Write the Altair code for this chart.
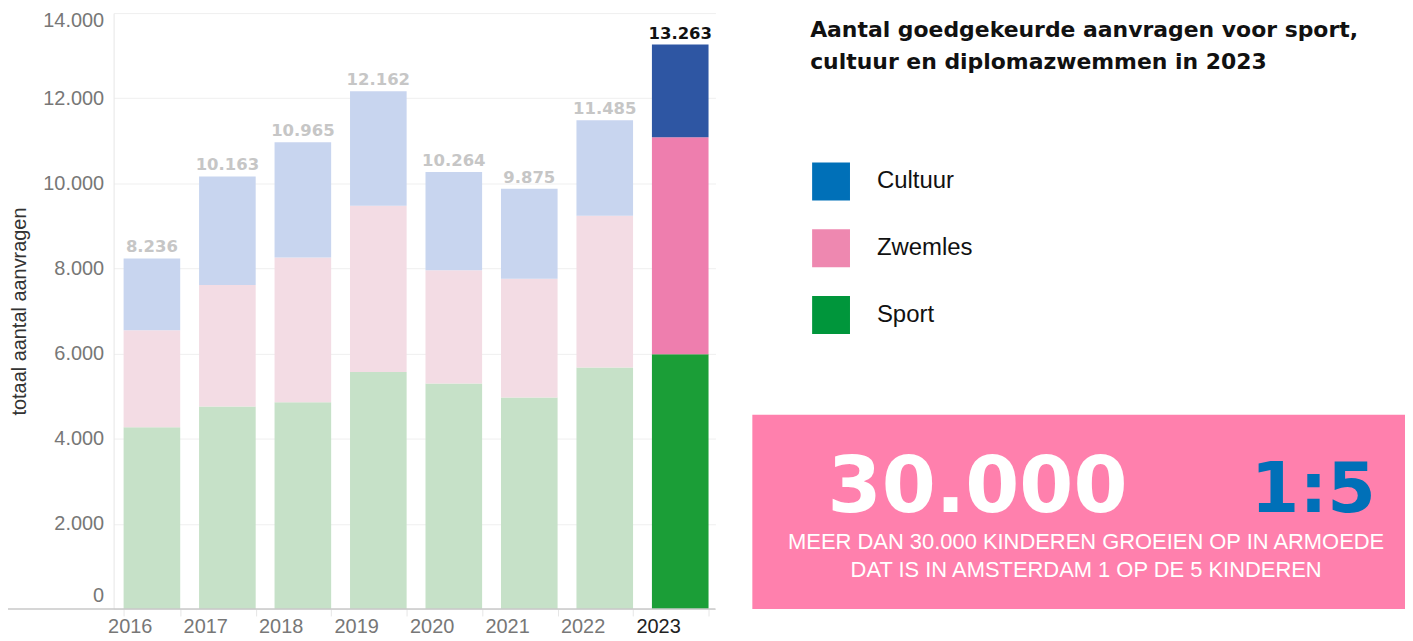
import altair as alt
import pandas as pd

# ---- data ----
jaren = ["2016", "2017", "2018", "2019", "2020", "2021", "2022", "2023"]
totaal = [8236, 10163, 10965, 12162, 10264, 9875, 11485, 13263]
sport = [4270, 4760, 4860, 5565, 5300, 4970, 5675, 5985]
zwemles = [2280, 2850, 3400, 3910, 2660, 2790, 3565, 5100]
cultuur = [1686, 2553, 2705, 2687, 2304, 2115, 2245, 2178]
y_ticks = [0, 2000, 4000, 6000, 8000, 10000, 12000, 14000]

categorieen = ["Cultuur", "Zwemles", "Sport"]
legenda_kleuren = ["#0070b8", "#ee88b0", "#00963b"]
kleur_sleutels = ["Cultuur", "Zwemles", "Sport", "Cultuur licht", "Zwemles licht", "Sport licht"]
kleuren = ["#2e56a3", "#ee7eae", "#1b9e37", "#c8d5ef", "#f3dce4", "#c6e1c8"]

titel = ["Aantal goedgekeurde aanvragen voor sport,", "cultuur en diplomazwemmen in 2023"]
kader_getal = "30.000"
kader_verhouding = "1:5"
kader_tekst = ["MEER DAN 30.000 KINDEREN GROEIEN OP IN ARMOEDE",
               "DAT IS IN AMSTERDAM 1 OP DE 5 KINDEREN"]

rows = []
for i, j in enumerate(jaren):
    for cat, vals, order in [("Sport", sport, 0), ("Zwemles", zwemles, 1), ("Cultuur", cultuur, 2)]:
        rows.append({"jaar": j, "categorie": cat, "aantal": vals[i], "volgorde": order,
                     "kleur": cat if j == "2023" else cat + " licht"})
df = pd.DataFrame(rows)
tot_df = pd.DataFrame({"jaar": jaren, "totaal": totaal})

W, H = 604, 598
FONT = "Liberation Sans"

x_enc = alt.X(
    "jaar:N",
    sort=jaren,
    scale=alt.Scale(paddingInner=0.25, paddingOuter=0.112, align=0.59),
    axis=alt.Axis(
        title=None, labelAngle=0, labelFontSize=20, labelFont=FONT,
        labelColor={"condition": {"test": "datum.value === '2023'", "value": "#222222"}, "value": "#777777"},
        labelBaseline="alphabetic", labelPadding=17,
        domain=False, grid=False, ticks=True, tickBand="extent",
        tickColor="#e6e6e6", tickSize=7,
    ),
)

y_scale = alt.Scale(domain=[0, 14000], nice=False)

bars = alt.Chart(df).mark_bar().encode(
    x=x_enc,
    y=alt.Y(
        "aantal:Q", stack="zero", scale=y_scale,
        axis=alt.Axis(
            values=y_ticks,
            labelExpr="replace(format(datum.value, ','), ',', '.')",
            title="totaal aantal aanvragen", titleFont=FONT, titleFontSize=20,
            titleFontWeight="normal", titleColor="#333333", titlePadding=13,
            labelFont=FONT, labelFontSize=20, labelColor="#777777", labelPadding=10,
            labelFlush=False, labelBaseline="middle",
            labelOffset={"condition": [{"test": "datum.value === 14000", "value": 7},
                                       {"test": "datum.value === 0", "value": -14}],
                         "value": 0},
            ticks=False, domain=True, domainColor="#e6e6e6",
            grid=True, gridColor="#efefef",
        ),
    ),
    color=alt.Color("kleur:N", scale=alt.Scale(domain=kleur_sleutels, range=kleuren), legend=None),
    order=alt.Order("volgorde:Q"),
)

legend_layer = alt.Chart(df).mark_square(opacity=0, size=1).encode(
    x=alt.X("jaar:N", sort=jaren),
    y=alt.value(H),
    color=alt.Color(
        "categorie:N",
        scale=alt.Scale(domain=categorieen, range=legenda_kleuren),
        legend=alt.Legend(
            title=None, orient="none", legendX=701, legendY=150,
            symbolType="square", symbolSize=1444, symbolOpacity=1, symbolStrokeWidth=0,
            labelFont=FONT, labelFontSize=24, labelColor="#111111", labelOffset=27,
            rowPadding=29, padding=0,
        ),
    ),
)

labels = alt.Chart(tot_df).transform_calculate(
    label="replace(format(datum.totaal, ','), ',', '.')"
).mark_text(dy=-6, baseline="alphabetic", font="DejaVu Sans", fontWeight="bold", fontSize=16.5).encode(
    x=alt.X("jaar:N", sort=jaren),
    y=alt.Y("totaal:Q", scale=y_scale),
    text="label:N",
    color=alt.condition(alt.datum.jaar == "2023", alt.value("#111111"), alt.value("#c6c6c6")),
)

one = pd.DataFrame({"d": [0]})

base_rule = alt.Chart(one).mark_rule(color="#c8c8c8", strokeWidth=1.5).encode(
    x=alt.value(-106), x2=alt.value(W), y=alt.value(H)
)

title_text = alt.Chart(one).mark_text(
    align="left", baseline="alphabetic", font="DejaVu Sans", fontWeight="bold", fontSize=22,
    color="#111111", lineHeight=32,
).encode(x=alt.value(699), y=alt.value(24), text=alt.value(titel))

box = alt.Chart(one).mark_rect(color="#ff80ad").encode(
    x=alt.value(641), x2=alt.value(1296), y=alt.value(403), y2=alt.value(598)
)

big_num = alt.Chart(one).mark_text(
    align="center", baseline="alphabetic", font="DejaVu Sans", fontWeight="bold",
    fontSize=78, color="#ffffff",
).encode(x=alt.value(867), y=alt.value(501), text=alt.value(kader_getal))

ratio = alt.Chart(one).mark_text(
    align="center", baseline="alphabetic", font="DejaVu Sans", fontWeight="bold",
    fontSize=70, color="#0070b8",
).encode(x=alt.value(1204), y=alt.value(501), text=alt.value(kader_verhouding))

sub = alt.Chart(one).mark_text(
    align="center", baseline="alphabetic", font=FONT, fontSize=22, color="#ffffff", lineHeight=28,
).encode(x=alt.value(976), y=alt.value(538), text=alt.value(kader_tekst))

chart = alt.layer(
    legend_layer, bars, labels, base_rule, title_text, box, big_num, ratio, sub
).resolve_scale(color="independent").properties(
    width=W, height=H,
    autosize="none",
    padding={"left": 106, "top": 4, "right": 1402 - 106 - W, "bottom": 29},
    background="#ffffff",
).configure_view(stroke=None)

chart.save("out.html", embed_options={"renderer": "svg", "actions": False})
